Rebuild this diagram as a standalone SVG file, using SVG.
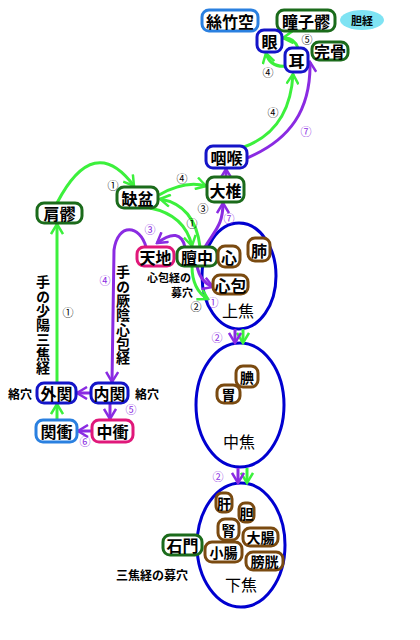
<svg xmlns="http://www.w3.org/2000/svg" width="420" height="640" viewBox="0 0 420 640">
<style>
.bx{fill:#fff;stroke-width:3}
.b{stroke:#1414c8}
.lb{stroke:#2a80e0}
.g{stroke:#1b6b1b}
.pk{stroke:#e0187a}
.br{stroke:#7a4a10}
text{font-family:"Noto Sans CJK JP","Noto Sans CJK SC",sans-serif;text-anchor:middle;dominant-baseline:central}
.t{font-weight:bold;font-size:16px;fill:#000}
.ts{font-weight:bold;font-size:14px;fill:#000}
.lab{font-weight:bold;font-size:12px;fill:#000}
.lab2{font-weight:bold;font-size:11.5px;fill:#000}
.big{font-size:16px;fill:#000}
.n{font-size:11px;fill:#000}
.np{font-size:11px;fill:#8a2be2}
.vt{font-weight:bold;font-size:14px;fill:#000;writing-mode:vertical-rl;text-anchor:start;dominant-baseline:central;letter-spacing:0.3px}
.gl{fill:none;stroke:#3cf03c;stroke-width:3;marker-end:url(#ag)}
.pl{fill:none;stroke:#8a2be2;stroke-width:3;marker-end:url(#ap)}
.el{fill:none;stroke:#0000d0;stroke-width:3}
</style>
<defs>
<marker id="ag" markerUnits="userSpaceOnUse" markerWidth="14" markerHeight="14" viewBox="0 0 14 14" refX="12" refY="7" orient="auto">
<path d="M2,1 L12,7 L2,13" fill="none" stroke="#3cf03c" stroke-width="2.5"/>
</marker>
<marker id="ap" markerUnits="userSpaceOnUse" markerWidth="14" markerHeight="14" viewBox="0 0 14 14" refX="12" refY="7" orient="auto">
<path d="M2,1 L12,7 L2,13" fill="none" stroke="#8a2be2" stroke-width="2.5"/>
</marker>
</defs>
<rect width="420" height="640" fill="#fff"/>

<g id="jiao">
<ellipse class="el" cx="239" cy="276" rx="37" ry="53"/>
<ellipse class="el" cx="240" cy="405" rx="44" ry="62"/>
<ellipse class="el" cx="241" cy="545" rx="44" ry="62"/>
<text class="big" x="238" y="310">上焦</text>
<text class="big" x="239" y="441">中焦</text>
<text class="big" x="241" y="584">下焦</text>
</g>

<g id="connectors">
<path class="gl" d="M57,203 Q94,132 134,186"/>
<path class="gl" d="M159,195 Q185,180 206,186"/>
<path class="gl" d="M150,208 Q185,215 192,246"/>
<path class="gl" d="M200,247 Q195,205 160,199"/>
<path class="gl" d="M192,266 Q192,290 208,299"/>
<path class="gl" d="M243,329 L243,343"/>
<path class="gl" d="M247,468 L247,483"/>
<path class="gl" d="M244,147 Q290,130 293,74"/>
<path class="gl" d="M287,66 Q270,68 266,53"/>
<path class="gl" d="M298,48 Q294,37 283,38"/>
<path class="gl" d="M57,420 L57,404"/>
<path class="gl" d="M57,383 L57,224"/>
<path class="pl" d="M197,266 Q200,282 213,287"/>
<path class="pl" d="M185,247 Q180,226 157,243"/>
<path class="pl" d="M146,247 C140,225 118,222 114,250 L112,382"/>
<path class="pl" d="M91,393 L77,393"/>
<path class="pl" d="M110,403 L110,419"/>
<path class="pl" d="M92,431 L78,431"/>
<path class="pl" d="M205,247 C215,230 223,225 223,203"/>
<path class="pl" d="M226,177 L226,169"/>
<path class="pl" d="M247,158 C290,140 311,110 310,62"/>
<path class="pl" d="M235,329 L235,343"/>
<path class="pl" d="M238,468 L238,483"/>
<text class="n" x="113" y="185">①</text>
<text class="n" x="182" y="178">④</text>
<text class="n" x="203" y="208">③</text>
<text class="n" x="192" y="223">①</text>
<text class="n" x="196" y="306">②</text>
<text class="n" x="68" y="312">①</text>
<text class="n" x="268" y="72">④</text>
<text class="n" x="273" y="112">④</text>
<text class="n" x="307" y="39">⑤</text>
<text class="np" x="150" y="229">③</text>
<text class="np" x="213" y="302">①</text>
<text class="np" x="105" y="280">④</text>
<text class="np" x="229" y="218">⑦</text>
<text class="np" x="306" y="131">⑦</text>
<text class="np" x="131" y="409">⑤</text>
<text class="np" x="85" y="441">⑥</text>
<text class="np" x="217" y="337">②</text>
<text class="np" x="218" y="476">②</text>
</g>

<g id="labels">
<text class="vt" x="43" y="275">手の少陽三焦経</text>
<text class="vt" x="123" y="265">手の厥陰心包経</text>
<text class="lab2" style="font-size:11px" x="169" y="277">心包経の</text>
<text class="lab2" style="font-size:11px" x="182" y="292">募穴</text>
<text class="lab" x="152" y="574">三焦経の募穴</text>
<text class="lab" x="20" y="393">絡穴</text>
<text class="lab" x="147" y="393">絡穴</text>
</g>

<g id="sizhukong"><rect class="bx lb" x="202" y="10" width="56" height="21" rx="7"/><text class="t" x="230" y="20.5">絲竹空</text></g>
<g id="tongziliao"><rect class="bx g" x="277" y="10" width="58" height="21" rx="7"/><text class="t" x="306" y="20.5">瞳子髎</text></g>
<g id="danjing"><ellipse cx="362" cy="20" rx="22" ry="10" fill="#7fe3f3"/><text class="lab" style="font-size:11px" x="362" y="20">胆経</text></g>
<g id="yan"><rect class="bx b" x="257" y="30" width="25" height="22" rx="7"/><text class="t" x="269.5" y="41">眼</text></g>
<g id="er"><rect class="bx b" x="285" y="48" width="23" height="24" rx="7"/><text class="t" x="296.5" y="60">耳</text></g>
<g id="wangu"><rect class="bx g" x="312" y="42" width="36" height="18" rx="7"/><text class="t" x="330" y="51">完骨</text></g>
<g id="yanhou"><rect class="bx b" x="206" y="146" width="41" height="22" rx="7"/><text class="t" x="226.5" y="157">咽喉</text></g>
<g id="dazhui"><rect class="bx g" x="207" y="177" width="37" height="25" rx="7"/><text class="t" x="225.5" y="189.5">大椎</text></g>
<g id="quepen"><rect class="bx g" x="117" y="187" width="41" height="21" rx="7"/><text class="t" x="137.5" y="197.5">缺盆</text></g>
<g id="jianliao"><rect class="bx g" x="37" y="203" width="45" height="20" rx="7"/><text class="t" x="59.5" y="213">肩髎</text></g>
<g id="tiandi"><rect class="bx pk" x="137" y="247" width="37" height="19" rx="7"/><text class="t" x="155.5" y="256.5">天地</text></g>
<g id="danzhong"><rect class="bx g" x="177" y="247" width="40" height="19" rx="7"/><text class="t" x="197" y="256.5">膻中</text></g>
<g id="xin"><rect class="bx br" x="218" y="246" width="22" height="21" rx="7"/><text class="t" x="229" y="256.5">心</text></g>
<g id="fei"><rect class="bx br" x="248" y="238" width="22" height="23" rx="7"/><text class="t" x="259" y="249.5">肺</text></g>
<g id="xinbao"><rect class="bx br" x="213" y="275" width="35" height="19" rx="7"/><text class="t" x="230.5" y="284.5">心包</text></g>
<g id="waiguan"><rect class="bx b" x="37" y="383" width="39" height="20" rx="7"/><text class="t" x="56.5" y="393">外関</text></g>
<g id="neiguan"><rect class="bx b" x="91" y="383" width="37" height="20" rx="7"/><text class="t" x="109.5" y="393">内関</text></g>
<g id="guanchong"><rect class="bx lb" x="36" y="420" width="41" height="22" rx="7"/><text class="t" x="56.5" y="431">関衝</text></g>
<g id="zhongchong"><rect class="bx pk" x="92" y="420" width="41" height="22" rx="7"/><text class="t" x="112.5" y="431">中衝</text></g>
<g id="wei"><rect class="bx br" x="217" y="385" width="23" height="18" rx="7"/><text class="ts" x="228.5" y="394">胃</text></g>
<g id="tian"><rect class="bx br" x="236" y="366" width="22" height="21" rx="7"/><text class="ts" x="247" y="376.5">腆</text></g>
<g id="gan"><rect class="bx br" x="216" y="493" width="16" height="19" rx="6"/><text class="ts" x="224" y="502.5">肝</text></g>
<g id="dan"><rect class="bx br" x="239" y="503" width="15" height="19" rx="6"/><text class="ts" x="246.5" y="512.5">胆</text></g>
<g id="shen"><rect class="bx br" x="218" y="519" width="21" height="21" rx="7"/><text class="ts" x="228.5" y="529.5">腎</text></g>
<g id="dachang"><rect class="bx br" x="243" y="528" width="35" height="18" rx="7"/><text class="ts" x="260.5" y="537">大腸</text></g>
<g id="xiaochang"><rect class="bx br" x="205" y="542" width="37" height="20" rx="7"/><text class="ts" x="223.5" y="552">小腸</text></g>
<g id="pangguang"><rect class="bx br" x="246" y="552" width="37" height="18" rx="7"/><text class="ts" x="264.5" y="561">膀胱</text></g>
<g id="shimen"><rect class="bx g" x="163" y="535" width="39" height="20" rx="7"/><text class="t" x="182.5" y="545">石門</text></g>
</svg>
